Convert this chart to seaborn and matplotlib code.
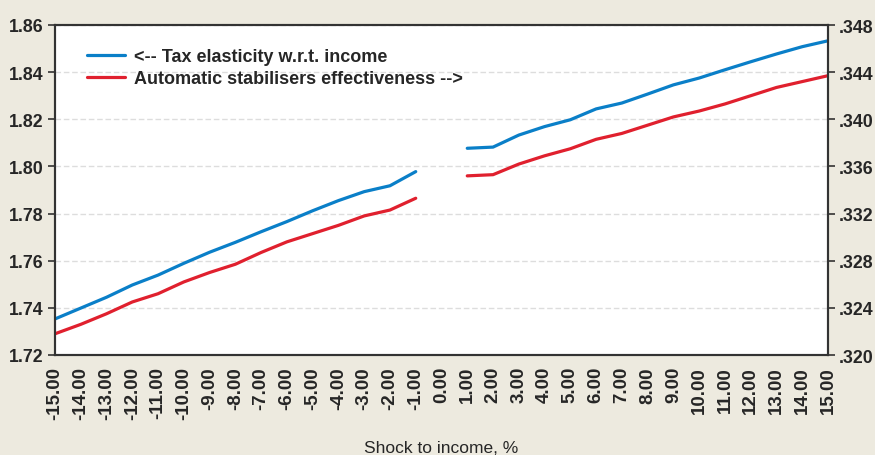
import numpy as np
import pandas as pd
import matplotlib
matplotlib.use("Agg")
import matplotlib.pyplot as plt
import seaborn as sns
from matplotlib.ticker import FixedLocator

shock = list(range(-15, 16))
tax_elasticity = [1.7353, 1.7399, 1.7445, 1.7497, 1.7539, 1.7589, 1.7636, 1.7678, 1.7723, 1.7766,
                  1.7812, 1.7855, 1.7893, 1.7918, 1.7978, np.nan, 1.8077, 1.8082, 1.8133, 1.8169,
                  1.8198, 1.8244, 1.8269, 1.8307, 1.8346, 1.8375, 1.8410, 1.8444, 1.8477, 1.8508, 1.8533]
stabilisers = [0.3218, 0.3226, 0.3235, 0.3245, 0.3252, 0.3262, 0.3270, 0.3277, 0.3287, 0.3296,
               0.3303, 0.3310, 0.3318, 0.3323, 0.3333, np.nan, 0.3352, 0.3353, 0.3362, 0.3369,
               0.3375, 0.3383, 0.3388, 0.3395, 0.3402, 0.3407, 0.3413, 0.3420, 0.3427, 0.3432, 0.3437]
left_ticks = [1.72, 1.74, 1.76, 1.78, 1.80, 1.82, 1.84, 1.86]
right_ticks = [0.320, 0.324, 0.328, 0.332, 0.336, 0.340, 0.344, 0.348]
label_tax = "<-- Tax elasticity w.r.t. income"
label_stab = "Automatic stabilisers effectiveness -->"
xlabel = "Shock to income, %"

df = pd.DataFrame({"shock": shock, "tax": tax_elasticity, "stab": stabilisers})
df["segment"] = np.where(df["shock"] < 0, 0, 1)
df = df.dropna()

sns.set_style("white")
plt.rcParams["font.family"] = ["Liberation Sans", "DejaVu Sans"]

BG = "#EDEADF"
BLUE = "#0A7FC8"
RED = "#E0202E"

fig = plt.figure(figsize=(8.75, 4.56), dpi=100, facecolor=BG)
ax = fig.add_axes([55/875, 1-356/456, (828-55)/875, (356-26)/456])
ax.set_facecolor("white")
ax2 = ax.twinx()

sns.lineplot(data=df, x="shock", y="tax", units="segment", estimator=None,
             color=BLUE, lw=2.3, ax=ax, legend=False)
sns.lineplot(data=df, x="shock", y="stab", units="segment", estimator=None,
             color=RED, lw=2.3, ax=ax2, legend=False)

ax.set_xlim(-15, 15)
ax.set_ylim(1.72, 1.86)
ax2.set_ylim(0.320, 0.348)

ax.set_xticks(shock)
ax.set_xticklabels([f"{v:.2f}" for v in shock], rotation=90, fontweight="bold", fontsize=13.5)
ax.xaxis.set_minor_locator(FixedLocator([v for v in shock if v % 2 != 0 and abs(v) < 15]))
ax.set_yticks(left_ticks)
ax.set_yticklabels([f"{v:.2f}" for v in left_ticks], fontweight="bold", fontsize=12.8)
ax2.set_yticks(right_ticks)
ax2.set_yticklabels([f"{v:.3f}"[1:] for v in right_ticks], fontweight="bold", fontsize=12.8)

ax.tick_params(axis="x", which="major", direction="out", length=5, width=1.2, color="#333333", pad=3)
ax.tick_params(axis="x", which="minor", length=0)
ax.tick_params(axis="y", direction="out", length=5, width=1.2, color="#333333", pad=3)
ax2.tick_params(axis="y", direction="out", length=5, width=1.2, color="#333333", pad=3)

ax.grid(False)
ax.grid(True, axis="x", which="minor", color="#DDDDDD", linestyle=(0, (4, 2)), lw=1)
ax.grid(True, axis="y", which="major", color="#DDDDDD", linestyle=(0, (4, 2)), lw=1)
ax.set_axisbelow(True)

for a in (ax, ax2):
    for s in a.spines.values():
        s.set_color("#333333")
        s.set_linewidth(1.5)
        s.set_visible(True)

ax.set_xlabel(xlabel, fontsize=12.5, labelpad=15)
ax.set_ylabel("")
ax2.set_ylabel("")

handles = [plt.Line2D([], [], color=BLUE, lw=2.3), plt.Line2D([], [], color=RED, lw=2.3)]
leg = ax.legend(handles, [label_tax, label_stab], loc="upper left", frameon=False,
                prop={"weight": "bold", "size": 13}, handlelength=2.1, handletextpad=0.5,
                labelspacing=0.3, bbox_to_anchor=(0.02, 0.98))

fig.savefig("out.png", dpi=100, facecolor=BG)
